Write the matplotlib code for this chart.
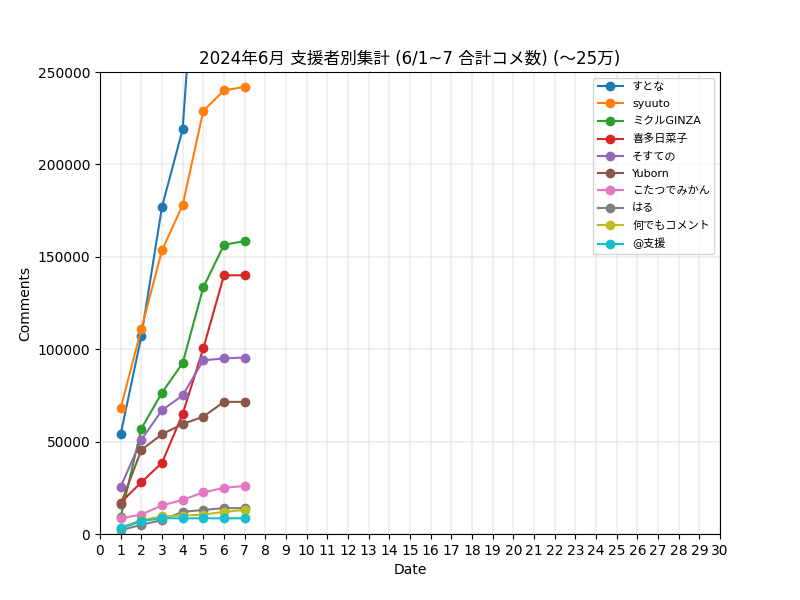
import matplotlib
matplotlib.use('Agg')
import matplotlib.pyplot as plt

plt.rcParams['font.family'] = ['DejaVu Sans', 'Noto Sans CJK JP']

days = [1, 2, 3, 4, 5, 6, 7]
names = ['すとな', 'syuuto', 'ミクルGINZA', '喜多日菜子', 'そすての',
         'Yuborn', 'こたつでみかん', 'はる', '何でもコメント', '@支援']

sutona = [54000, 107000, 177000, 219000, 380000, 420000, 430000]
syuuto = [68000, 111000, 153500, 178000, 229000, 240000, 242000]
mikuru = [9000, 57000, 76500, 92500, 133500, 156500, 158500]
kita = [17000, 28000, 38500, 65000, 100500, 140000, 140000]
sosuteno = [25500, 51000, 67000, 75000, 94000, 95000, 95500]
yuborn = [16000, 45500, 54000, 59500, 63500, 71500, 71500]
kotatsu = [8500, 10500, 15500, 18500, 22500, 25000, 26000]
haru = [2000, 5000, 7500, 12000, 13000, 14000, 14000]
nandemo = [3500, 7500, 9500, 10000, 10500, 12000, 13000]
shien = [3000, 7000, 8500, 8500, 8500, 8500, 8500]

series = [sutona, syuuto, mikuru, kita, sosuteno, yuborn, kotatsu, haru, nandemo, shien]

fig, ax = plt.subplots(figsize=(8, 6), dpi=100)
for name, vals in zip(names, series):
    ax.plot(days, vals, marker='o', label=name)

ax.set_xlim(0, 30)
ax.set_ylim(0, 250000)
ax.set_xticks(range(0, 31))
ax.grid(True, color='#dddddd', alpha=0.5, linewidth=1.2)
ax.set_xlabel('Date')
ax.set_ylabel('Comments')
ax.set_title('2024年6月 支援者別集計 (6/1~7 合計コメ数) (〜25万)')
ax.legend(fontsize=8, loc='upper right', labelspacing=0.65, handlelength=2.3)

fig.savefig('out.png')
